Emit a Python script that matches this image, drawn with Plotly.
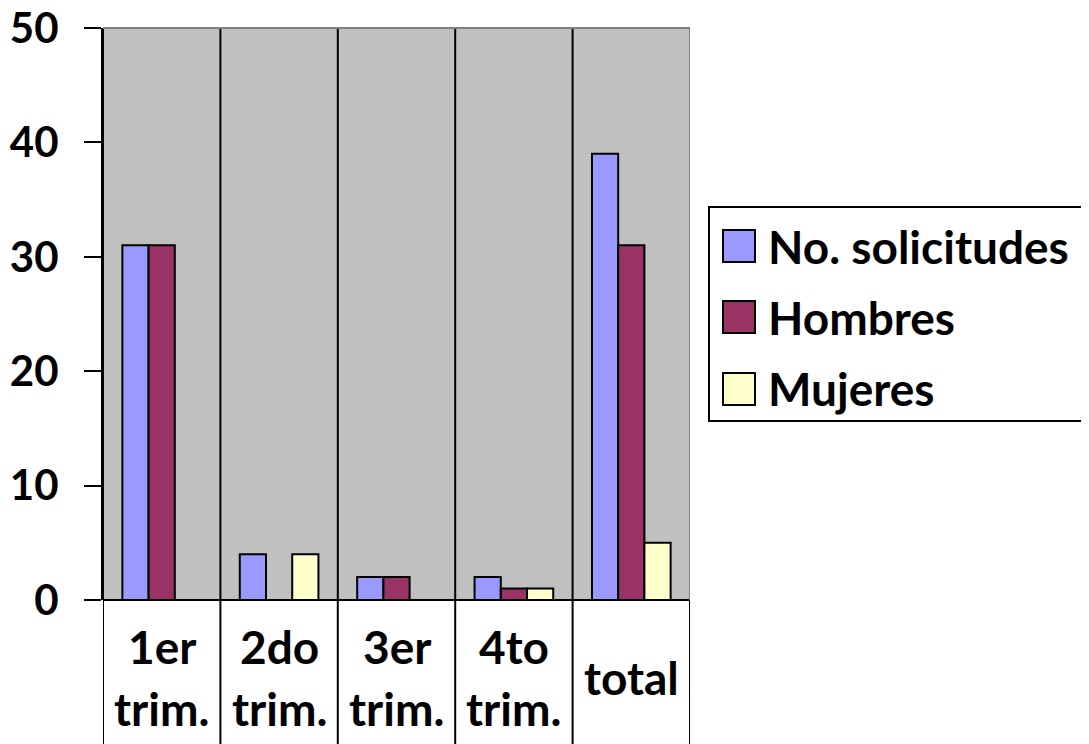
import plotly.graph_objects as go

categories = ["1er<br>trim.", "2do<br>trim.", "3er<br>trim.", "4to<br>trim.", "total"]
series_names = ["No. solicitudes", "Hombres", "Mujeres"]
solicitudes = [31, 4, 2, 2, 39]
hombres = [31, 0, 2, 1, 31]
mujeres = [0, 4, 0, 1, 5]
series_values = [solicitudes, hombres, mujeres]
colors = ["#9999FF", "#993366", "#FFFFCC"]
y_ticks = [0, 10, 20, 30, 40, 50]

FONT = "Lato"
FS_TICK = 42
FS_TEXT = 46

OFF = 8  # page body margin
W, H = 1089 - OFF, 744 - OFF
ML, MT = 103 - OFF, 28 - OFF
MB = 744 - 600
MR = W - (690 - OFF)
PW = W - ML - MR
PH = H - MT - MB

def px_x(p):  # screenshot px -> paper x
    return (p - OFF - ML) / PW

def px_y(p):  # screenshot px -> paper y
    return (H - MB - (p - OFF)) / PH

fig = go.Figure()
idx = list(range(len(categories)))
for name, vals, col in zip(series_names, series_values, colors):
    fig.add_trace(go.Bar(
        x=idx, y=vals, name=name, showlegend=False,
        marker=dict(color=col, line=dict(color="black", width=2)),
    ))

shapes = []
table_bottom = px_y(750)
n = len(categories)
for i in range(n + 1):
    xb = i - 0.5
    if i == n:
        shapes.append(dict(type="line", xref="x", yref="paper", x0=xb, x1=xb,
                           y0=0, y1=1, line=dict(color="#808080", width=2)))
        shapes.append(dict(type="line", xref="x", yref="paper", x0=xb, x1=xb,
                           y0=table_bottom, y1=0, line=dict(color="black", width=2)))
    else:
        shapes.append(dict(type="line", xref="x", yref="paper", x0=xb, x1=xb,
                           y0=table_bottom, y1=1, line=dict(color="black", width=2)))
shapes.append(dict(type="line", xref="paper", yref="paper", x0=0, x1=1, y0=1, y1=1,
                   line=dict(color="#808080", width=2)))

annotations = []
line_gap = 62
center_py = 677
for i, lab in enumerate(categories):
    lines = lab.split("<br>")
    k = len(lines)
    for j, ln in enumerate(lines):
        py = center_py + (j - (k - 1) / 2) * line_gap
        annotations.append(dict(x=i, xref="x", y=px_y(py), yref="paper", text=ln,
                                showarrow=False, xanchor="center", yanchor="middle",
                                font=dict(family=FONT, size=FS_TEXT, color="black", weight="bold")))

box = (709, 207, 1084, 421)
shapes.append(dict(type="rect", xref="paper", yref="paper",
                   x0=px_x(box[0]), x1=px_x(box[2]), y0=px_y(box[3]), y1=px_y(box[1]),
                   line=dict(color="black", width=2), fillcolor="white", layer="below"))
item_centers = [246, 317, 389]
for name, col, cy in zip(series_names, colors, item_centers):
    shapes.append(dict(type="rect", xref="paper", yref="paper",
                       x0=px_x(723), x1=px_x(755), y0=px_y(cy + 16), y1=px_y(cy - 16),
                       line=dict(color="black", width=2), fillcolor=col))
    annotations.append(dict(x=px_x(766), xref="paper", y=px_y(cy), yref="paper", text=name,
                            showarrow=False, xanchor="left", yanchor="middle",
                            font=dict(family=FONT, size=FS_TEXT, color="black", weight="bold")))

fig.update_layout(
    width=W, height=H,
    margin=dict(l=ML, r=MR, t=MT, b=MB, pad=0, autoexpand=False),
    paper_bgcolor="white", plot_bgcolor="#C0C0C0",
    barmode="group", bargap=0.33, bargroupgap=0,
    showlegend=False,
    shapes=shapes, annotations=annotations,
    font=dict(family=FONT, size=FS_TICK, color="black"),
)
fig.update_xaxes(range=[-0.5, n - 0.5], showticklabels=False, showgrid=False,
                 zeroline=False, showline=False, ticks="", fixedrange=True,
                 automargin=False)
fig.update_yaxes(range=[0, 50], tickvals=y_ticks, ticks="outside", ticklen=17,
                 tickwidth=2, tickcolor="black", showgrid=False, zeroline=True,
                 zerolinecolor="black", zerolinewidth=2,
                 showline=True, linecolor="black", linewidth=2,
                 tickfont=dict(family=FONT, size=FS_TICK, color="black", weight="bold"),
                 ticklabelstandoff=17, ticklabeloverflow="allow", automargin=False)

fig.write_html("out.html")
